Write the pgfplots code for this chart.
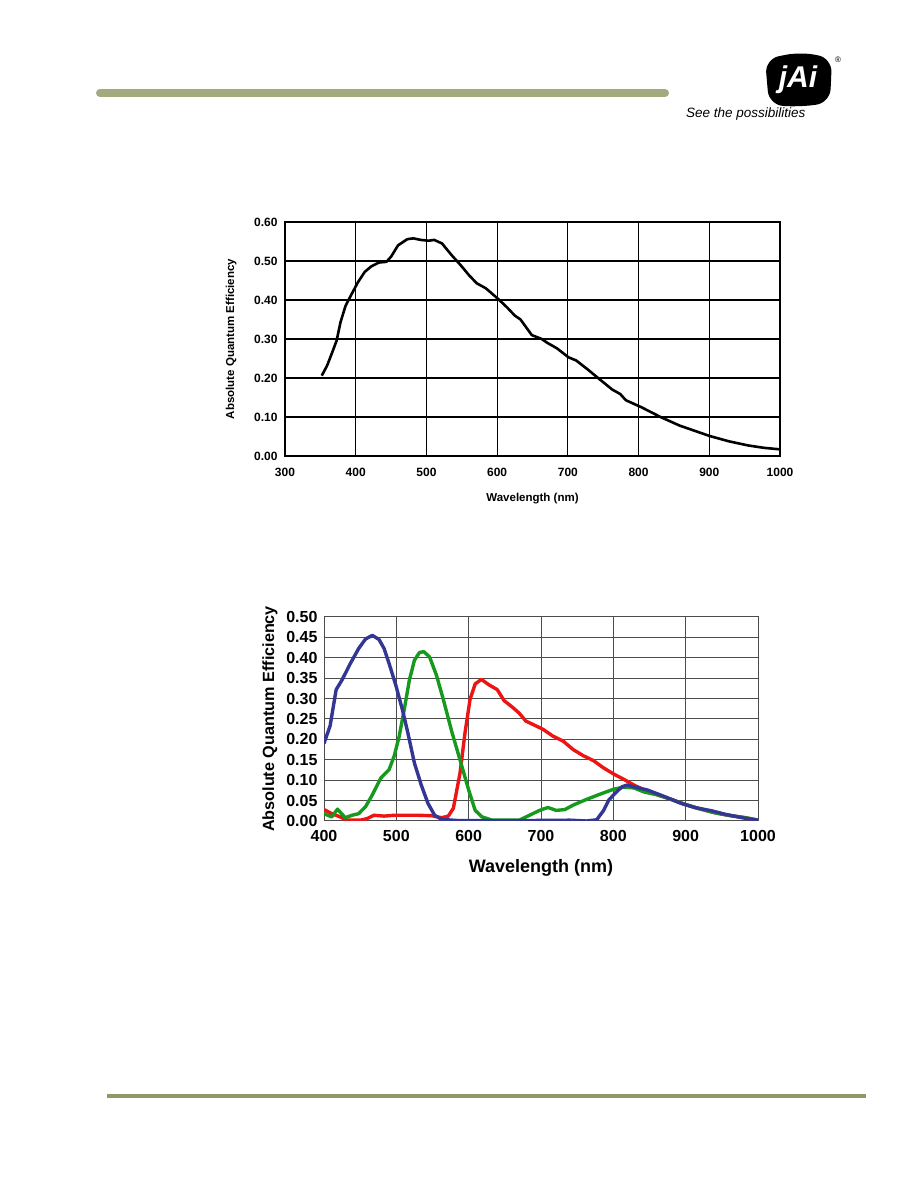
\documentclass[border=0pt]{standalone}
\usepackage{pgfplots}
\pgfplotsset{compat=1.18}
\usepackage{fontspec}
\setmainfont{Liberation Sans}
\definecolor{hdr}{HTML}{A3AB7E}
\definecolor{ftr}{HTML}{8E9966}
\definecolor{cblue}{HTML}{343694}
\definecolor{cgreen}{HTML}{169A1E}
\definecolor{cred}{HTML}{EE1414}
\begin{document}
\begin{tikzpicture}[x=1pt,y=1pt]
\useasboundingbox (0pt,0pt) rectangle (918pt,1188pt);
\fill[white] (0pt,0pt) rectangle (918pt,1188pt);
% header / footer
\draw[hdr, line width=8pt, line cap=round] (100pt,1095pt) -- (665pt,1095pt);
\draw[ftr, line width=4pt] (107pt,92pt) -- (866pt,92pt);
% logo
\fill[black, rounded corners=14pt] (769pt,1083pt) -- (765pt,1129pt) -- (800pt,1136pt) -- (832pt,1130pt) -- (830pt,1085pt) -- (798pt,1081pt) -- cycle;
\node[white, font=\fontsize{30}{30}\selectfont\bfseries\itshape] at (798pt,1108pt) {jAi};
\node[font=\fontsize{8}{8}\selectfont] at (838pt,1128pt) {®};
\node[font=\fontsize{13.5}{15}\selectfont\itshape, anchor=west, inner sep=0pt] at (686pt,1074pt) {See the possibilities};

% top chart
\begin{axis}[
  at={(285pt,732pt)}, anchor=south west,
  scale only axis, width=495pt, height=234pt,
  xmin=300, xmax=1000, ymin=0, ymax=0.6,
  xtick={300,400,...,1000}, ytick={0,0.1,...,0.6},
  grid=major, major grid style={black, line width=1.1pt},
  axis line style={black, line width=1.1pt},
  major tick length=0pt,
  /pgf/number format/assume math mode=true,
  yticklabel={\pgfmathprintnumber[fixed,fixed zerofill,precision=2]{\tick}},
  xticklabel style={/pgf/number format/1000 sep={}, yshift=-9pt},
  yticklabel style={xshift=-4pt},
  ticklabel style={font=\fontsize{12}{13}\selectfont\bfseries},
  label style={font=\fontsize{11.5}{13}\selectfont\bfseries},
  xlabel={Wavelength (nm)}, ylabel={Absolute Quantum Efficiency},
  xlabel style={at={(axis description cs:0.5,-0.184)}, anchor=center},
  ylabel style={at={(axis description cs:-0.109,0.5)}, anchor=center},
]
\addplot[black, line width=2.6pt, line join=round] coordinates {
(352,0.206)(359.6,0.232)(367.7,0.27)(373,0.296)(378.5,0.343)(385.6,0.385)(393,0.411)(403,0.445)(412.7,0.472)(421.9,0.486)(432.7,0.496)(443.5,0.498)(450,0.511)(459.8,0.54)(473,0.556)(481.5,0.558)(492,0.554)(503,0.552)(511,0.554)(522,0.545)(535.6,0.515)(549,0.488)(560,0.464)(571,0.443)(584,0.43)(600.6,0.404)(614,0.381)(625,0.36)(633,0.35)(649,0.31)(663,0.30)(671,0.29)(684.6,0.276)(700.9,0.253)(711.7,0.245)(728,0.222)(744,0.198)(763,0.17)(774,0.159)(782,0.143)(804,0.125)(831,0.10)(858,0.078)(885,0.061)(901,0.051)(928,0.0375)(955,0.027)(977,0.021)(1000,0.017)
};
\end{axis}

% bottom chart
\begin{axis}[
  at={(324pt,367pt)}, anchor=south west,
  scale only axis, width=434pt, height=204pt,
  xmin=400, xmax=1000, ymin=0, ymax=0.5,
  xtick={400,500,...,1000}, ytick={0,0.05,...,0.5},
  grid=major, major grid style={black!70, line width=1pt},
  axis line style={black!70, line width=1pt},
  major tick length=0pt,
  /pgf/number format/assume math mode=true,
  yticklabel={\pgfmathprintnumber[fixed,fixed zerofill,precision=2]{\tick}},
  xticklabel style={/pgf/number format/1000 sep={}, yshift=-6pt},
  yticklabel style={xshift=-3pt},
  ticklabel style={font=\fontsize{16}{18}\selectfont\bfseries},
  xlabel={Wavelength (nm)}, ylabel={Absolute Quantum Efficiency},
  xlabel style={font=\fontsize{18}{20}\selectfont\bfseries, at={(axis description cs:0.5,-0.23)}, anchor=center},
  ylabel style={font=\fontsize{16.2}{18}\selectfont\bfseries, at={(axis description cs:-0.1244,0.5)}, anchor=center},
]
\addplot[cred, line width=3.4pt, line join=round] coordinates {
(400,0.028)(410.7,0.018)(422.4,0.01)(431.7,0.002)(450.4,0.002)(459.8,0.006)(469,0.014)(483,0.012)(497,0.014)(529.8,0.014)(548.5,0.013)(562.5,0.008)(571.8,0.012)(578.8,0.031)(588,0.117)(595,0.217)(602,0.299)(609,0.336)(617.6,0.347)(627.8,0.334)(639.5,0.322)(649,0.295)(660.5,0.279)(670,0.264)(679,0.245)(688.4,0.237)(702.5,0.225)(716.5,0.208)(730.5,0.196)(744.5,0.175)(758.5,0.16)(772.5,0.148)(786.6,0.13)(800.6,0.115)(814.6,0.102)(828.6,0.088)(842.6,0.076)(861,0.064)(880,0.053)(898.7,0.041)(917,0.031)(940.7,0.02)(959,0.014)(982.7,0.008)(1000,0.002)
};
\addplot[cgreen, line width=3.4pt, line join=round] coordinates {
(400,0.018)(410.7,0.01)(418.7,0.029)(429.4,0.008)(438.7,0.014)(448,0.018)(457.4,0.035)(466.8,0.064)(478.4,0.105)(490,0.126)(497,0.159)(504,0.208)(511,0.274)(518,0.345)(525,0.394)(532,0.413)(538,0.415)(546,0.402)(555.5,0.357)(564.8,0.299)(576.5,0.22)(588,0.15)(600,0.076)(609,0.026)(618.5,0.01)(632.5,0.002)(670,0.002)(684,0.014)(698,0.026)(709.5,0.033)(721,0.026)(733,0.028)(744.5,0.039)(763,0.053)(782,0.066)(800.6,0.078)(814.6,0.083)(828.6,0.081)(842.6,0.071)(861,0.064)(880,0.053)(898.7,0.041)(917,0.031)(940.7,0.02)(959,0.014)(982.7,0.008)(1000,0.002)
};
\addplot[cblue, line width=3.4pt, line join=round] coordinates {
(400,0.19)(408.4,0.233)(416.8,0.322)(424.7,0.345)(436.4,0.386)(448,0.423)(457.4,0.446)(466.8,0.455)(476,0.445)(483,0.423)(490,0.386)(499.4,0.332)(508.8,0.27)(515.8,0.217)(525,0.142)(534.5,0.088)(543.8,0.043)(553,0.014)(562.5,0.004)(585.8,0.001)(670,0.001)(740,0.002)(763,0.0)(777,0.003)(786.6,0.026)(793.6,0.051)(803,0.069)(812,0.084)(819,0.088)(828,0.084)(847,0.076)(870.6,0.06)(894,0.043)(912.6,0.033)(936,0.025)(954.6,0.0165)(978,0.008)(1000,0.002)
};
\end{axis}
\end{tikzpicture}
\end{document}
